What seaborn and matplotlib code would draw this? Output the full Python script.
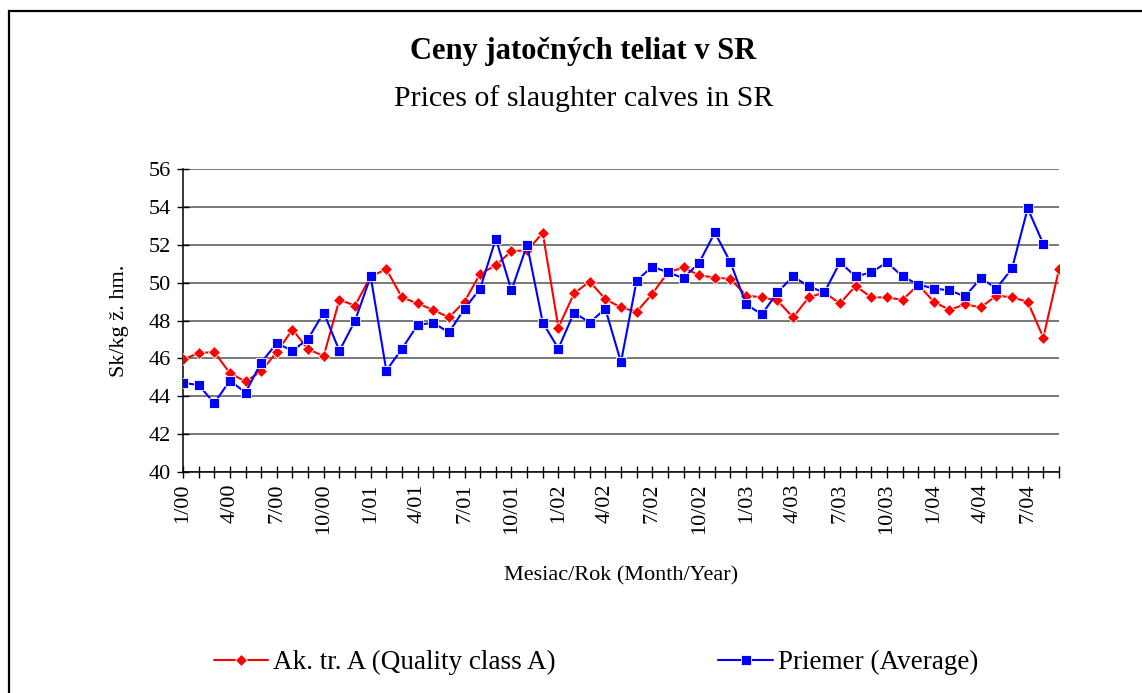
import numpy as np
import pandas as pd
import seaborn as sns
import matplotlib.pyplot as plt
from matplotlib.patches import Rectangle

# mesiace 1/00 .. 9/04
months = [f"{m}/{y:02d}" for y in range(0, 5) for m in range(1, 13)][:57]

# Ak. tr. A (Quality class A)
quality_a = [45.95, 46.27, 46.34, 45.22, 44.78, 45.32, 46.34, 47.52, 46.48, 46.13,
             49.09, 48.79, 50.33, 50.71, 49.22, 48.90, 48.56, 48.16, 49.00, 50.47,
             50.91, 51.67, 51.70, 52.62, 47.63, 49.43, 50.06, 49.13, 48.69, 48.46,
             49.41, 50.54, 50.80, 50.38, 50.27, 50.19, 49.32, 49.22, 49.06, 48.16,
             49.22, 49.48, 48.90, 49.83, 49.22, 49.22, 49.09, 49.89, 48.99, 48.56,
             48.86, 48.69, 49.32, 49.22, 48.99, 47.10, 50.70]

# Priemer (Average)
average = [44.70, 44.60, 43.63, 44.83, 44.19, 45.78, 46.80, 46.40, 47.03, 48.42,
           46.40, 47.98, 50.33, 45.36, 46.50, 47.77, 47.88, 47.37, 48.62, 49.69,
           52.32, 49.59, 52.00, 47.89, 46.52, 48.42, 47.89, 48.62, 45.80, 50.10,
           50.85, 50.54, 50.24, 51.05, 52.65, 51.07, 48.86, 48.32, 49.48, 50.33,
           49.80, 49.48, 51.07, 50.33, 50.54, 51.07, 50.33, 49.90, 49.69, 49.59,
           49.27, 50.24, 49.69, 50.75, 53.92, 52.04]

sns.set_theme(style="white")
plt.rcParams['font.family'] = ['Liberation Serif', 'DejaVu Serif']
plt.rcParams['text.color'] = 'black'
plt.rcParams['axes.labelcolor'] = 'black'
plt.rcParams['xtick.color'] = 'black'
plt.rcParams['ytick.color'] = 'black'

fig = plt.figure(figsize=(11.42, 6.93), dpi=100)
ax = fig.add_axes([0.1602, 0.3189, 0.7671, 0.4372])

x_a = np.arange(len(quality_a))
x_b = np.arange(len(average))

sns.lineplot(x=x_a, y=quality_a, ax=ax, color='#ff0000', linewidth=1.5,
             marker='D', markersize=6.5, markeredgecolor='white', markeredgewidth=0.6,
             label='Ak. tr. A (Quality class A)', zorder=3)
sns.lineplot(x=x_b, y=average, ax=ax, color='#0000ff', linewidth=1.5,
             marker='s', markersize=7.5, markeredgecolor='white', markeredgewidth=0.6,
             label='Priemer (Average)', zorder=4)

ax.set_xlim(0, len(quality_a) - 1)
ax.set_ylim(40, 56)
ax.set_yticks(np.arange(40, 57, 2))
ax.set_xticks(x_a)
ax.set_xticklabels([lab if i % 3 == 0 else '' for i, lab in enumerate(months)],
                   rotation=90, fontsize=16)
ax.tick_params(axis='y', labelsize=16)
ax.tick_params(axis='both', direction='inout', length=9, width=1, color='black',
               bottom=True, left=True, pad=4)

ax.yaxis.grid(True, color='#555555', linewidth=1.1)
ax.set_axisbelow(True)
for s in ['top', 'right']:
    ax.spines[s].set_visible(False)
for s in ['left', 'bottom']:
    ax.spines[s].set_color('black')
    ax.spines[s].set_linewidth(1.1)

ax.set_ylabel('Sk/kg ž. hm.', fontsize=16, labelpad=14)
ax.set_xlabel('Mesiac/Rok (Month/Year)', fontsize=16, labelpad=23)

fig.text(0.511, 0.926, 'Ceny jatočných teliat v SR', ha='center', va='center',
         fontsize=22, fontweight='bold')
fig.text(0.511, 0.858, 'Prices of slaughter calves in SR', ha='center', va='center',
         fontsize=21.5)

ax.legend(loc='center', bbox_to_anchor=(0.522, 0.044), bbox_transform=fig.transFigure,
          ncol=2, frameon=False, fontsize=19.5, columnspacing=6.0, handlelength=2.0,
          handletextpad=0.2)

fig.patches.append(Rectangle((9 / 1142, -0.2), 1.5, 1.2 - 11 / 693, fill=False,
                             edgecolor='black', linewidth=1.6,
                             transform=fig.transFigure, figure=fig))

fig.savefig('out.png', dpi=100, facecolor='white')
